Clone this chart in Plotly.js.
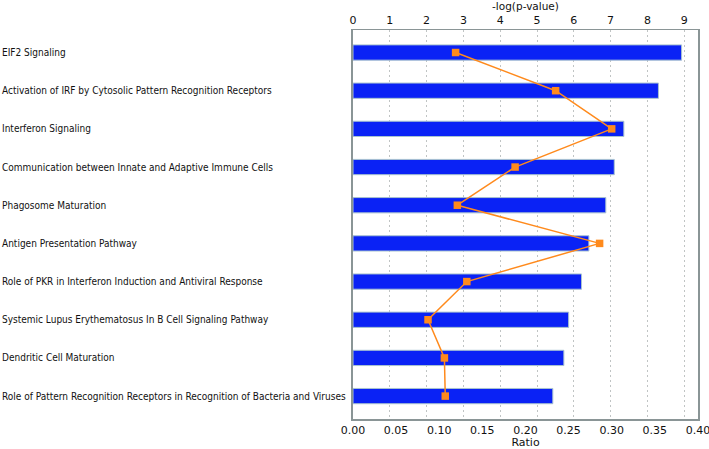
<!DOCTYPE html>
<html><head><meta charset="utf-8">
<script src="https://cdn.plot.ly/plotly-3.0.1.min.js"></script>
<style>html,body{margin:0;padding:0;background:#fff}#chart{width:709px;height:449px}</style>
</head><body><div id="chart"></div>
<script>
const pathways = [
  "EIF2 Signaling",
  "Activation of IRF by Cytosolic Pattern Recognition Receptors",
  "Interferon Signaling",
  "Communication between Innate and Adaptive Immune Cells",
  "Phagosome Maturation",
  "Antigen Presentation Pathway",
  "Role of PKR in Interferon Induction and Antiviral Response",
  "Systemic Lupus Erythematosus In B Cell Signaling Pathway",
  "Dendritic Cell Maturation",
  "Role of Pattern Recognition Receptors in Recognition of Bacteria and Viruses"
];
const negLogP = [8.93, 8.30, 7.36, 7.10, 6.87, 6.41, 6.21, 5.86, 5.73, 5.43];
const ratio = [0.119, 0.235, 0.300, 0.188, 0.121, 0.286, 0.132, 0.087, 0.106, 0.107];

const FONT = "DejaVu Sans, Verdana, sans-serif";
const LABELFONT = "DejaVu Sans Condensed, Liberation Sans Narrow, sans-serif";
const axisCol = "#8a9596";

const traces = [
  {
    type: "bar", orientation: "h", y: pathways, x: negLogP,
    xaxis: "x", yaxis: "y", width: 0.4,
    marker: {color: "#0a22f5", line: {color: "#a9c3cf", width: 1}},
    hoverinfo: "x+y"
  },
  {
    type: "scatter", mode: "lines+markers", y: pathways, x: ratio,
    xaxis: "x2", yaxis: "y",
    line: {color: "#ff8a1c", width: 1.5},
    marker: {color: "#ff8a1c", symbol: "square", size: 7.5}
  }
];

const annotations = pathways.map(p => ({
  xref: "paper", yref: "y", x: -353/345, y: p, xanchor: "left", yanchor: "middle",
  text: p, showarrow: false, font: {family: LABELFONT, size: 10, color: "#111"}
}));

const layout = {
  width: 709, height: 449,
  margin: {l: 353, r: 11, t: 30, b: 30},
  paper_bgcolor: "#fff", plot_bgcolor: "#fff",
  showlegend: false,
  font: {family: FONT, size: 11, color: "#111"},
  xaxis: {
    side: "top", range: [0, 9.375], dtick: 1, tick0: 0,
    showgrid: true, gridcolor: "#c0c4c4", griddash: "2px,3px", gridwidth: 1,
    zeroline: false, showline: true, linecolor: axisCol, linewidth: 1.5, mirror: false,
    ticks: "", ticklabelstandoff: 0,
    title: {text: "-log(p-value)", font: {family: FONT, size: 10.5}, standoff: 2},
    tickfont: {family: FONT, size: 11}
  },
  xaxis2: {
    overlaying: "x", side: "bottom", range: [0, 0.4001], dtick: 0.05, tick0: 0,
    tickformat: ".2f", showgrid: false, zeroline: false,
    showline: true, linecolor: axisCol, linewidth: 1.5,
    ticks: "", ticklabeloverflow: "allow", ticklabelstandoff: 0,
    title: {text: "Ratio", font: {family: FONT, size: 11}, standoff: 1},
    tickfont: {family: FONT, size: 11}
  },
  yaxis: {
    type: "category", range: [9.6, -0.59], showticklabels: false,
    showgrid: false, zeroline: false, showline: true, mirror: true,
    linecolor: axisCol, linewidth: 2, ticks: ""
  },
  annotations: annotations
};

Plotly.newPlot("chart", traces, layout, {displayModeBar: false, staticPlot: true});
</script></body></html>
